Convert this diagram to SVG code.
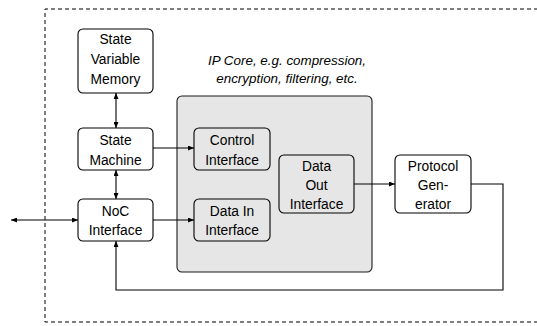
<svg xmlns="http://www.w3.org/2000/svg" width="537" height="326" viewBox="0 0 537 326">
  <style>
    .box { fill: #ffffff; stroke: #000000; stroke-width: 1.1; }
    .inner { fill: #e6e6e6; stroke: #000000; stroke-width: 1.1; }
    .core { fill: #e6e6e6; stroke: #1a1a1a; stroke-width: 1.1; }
    .frame { fill: none; stroke: #000000; stroke-width: 1; stroke-dasharray: 4 3; }
    .wire { fill: none; stroke: #000000; stroke-width: 1.1; }
    text { font-family: 'Liberation Sans', Arial, sans-serif; font-size: 13.8px; fill: #000000; text-anchor: middle; }
    .cap { font-style: italic; font-size: 13.4px; }
  </style>
  <defs>
    <marker id="tip" viewBox="0 0 6 5" refX="6" refY="2.5" markerWidth="6" markerHeight="5" markerUnits="userSpaceOnUse" orient="auto-start-reverse">
      <path d="M0,0 L6,2.5 L0,5 Z" fill="#000000"/>
    </marker>
  </defs>

  <!-- module boundary, open to the right -->
  <path class="frame" d="M545,9 H45 V322 H545"/>

  <!-- IP core block -->
  <g id="ip-core">
    <rect class="core" x="177" y="96" width="195" height="176" rx="5"/>
    <text class="cap" x="287" y="65">IP Core, e.g. compression,</text>
    <text class="cap" x="287" y="83">encryption, filtering, etc.</text>
  </g>

  <g id="state-variable-memory">
    <rect class="box" x="78" y="29" width="75" height="64" rx="5"/>
    <text x="115.5" y="44">State</text>
    <text x="115.5" y="64">Variable</text>
    <text x="115.5" y="84">Memory</text>
  </g>

  <g id="state-machine">
    <rect class="box" x="78" y="128" width="75" height="42" rx="5"/>
    <text x="115.5" y="145">State</text>
    <text x="115.5" y="165">Machine</text>
  </g>

  <g id="noc-interface">
    <rect class="box" x="78" y="199" width="75" height="42" rx="5"/>
    <text x="115.5" y="216">NoC</text>
    <text x="115.5" y="235">Interface</text>
  </g>

  <g id="control-interface">
    <rect class="inner" x="194" y="128" width="76" height="42" rx="5"/>
    <text x="232" y="145">Control</text>
    <text x="232" y="165">Interface</text>
  </g>

  <g id="data-in-interface">
    <rect class="inner" x="194" y="199" width="76" height="42" rx="5"/>
    <text x="232" y="216">Data In</text>
    <text x="232" y="235">Interface</text>
  </g>

  <g id="data-out-interface">
    <rect class="inner" x="279" y="155" width="75" height="58" rx="5"/>
    <text x="316.5" y="171">Data</text>
    <text x="316.5" y="190">Out</text>
    <text x="316.5" y="209">Interface</text>
  </g>

  <g id="protocol-generator">
    <rect class="box" x="395" y="155" width="76" height="58" rx="5"/>
    <text x="433" y="171">Protocol</text>
    <text x="433" y="190">Gen-</text>
    <text x="433" y="209">erator</text>
  </g>

  <g id="connectors">
    <line class="wire" x1="116" y1="93" x2="116" y2="128" marker-start="url(#tip)" marker-end="url(#tip)"/>
    <line class="wire" x1="116" y1="170" x2="116" y2="199" marker-start="url(#tip)" marker-end="url(#tip)"/>
    <line class="wire" x1="153" y1="148" x2="194" y2="148" marker-end="url(#tip)"/>
    <line class="wire" x1="153" y1="220" x2="194" y2="220" marker-end="url(#tip)"/>
    <line class="wire" x1="11" y1="220" x2="78" y2="220" marker-start="url(#tip)" marker-end="url(#tip)"/>
    <line class="wire" x1="354" y1="184" x2="395" y2="184" marker-end="url(#tip)"/>
    <path class="wire" d="M471,184 H503 V290 H116 V241" marker-end="url(#tip)"/>
  </g>
</svg>
